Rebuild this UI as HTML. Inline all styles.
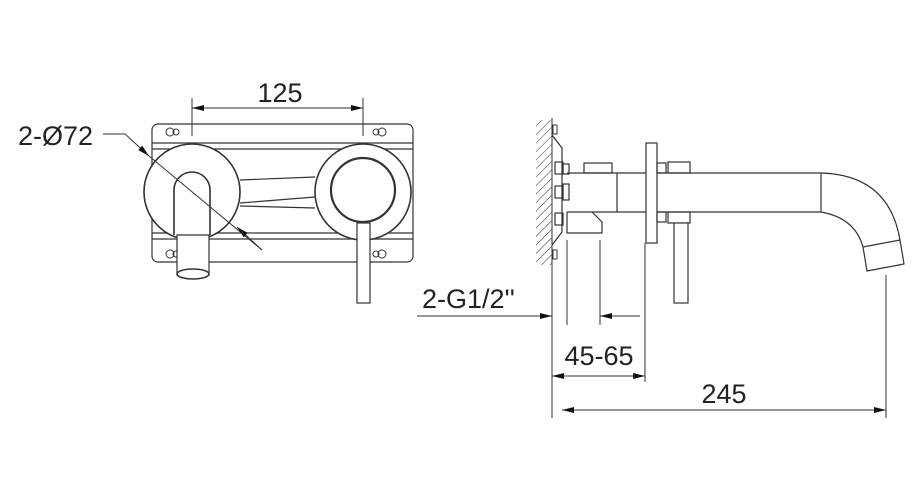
<!DOCTYPE html>
<html><head><style>html,body{margin:0;padding:0;background:#fff}svg{display:block}text{font-family:"Liberation Sans",sans-serif;fill:#222}</style></head>
<body>
<svg width="917" height="484" viewBox="0 0 917 484" xmlns="http://www.w3.org/2000/svg">
<defs>
<marker id="ar" viewBox="0 0 12 6" refX="12" refY="3" markerWidth="12" markerHeight="6" orient="auto" markerUnits="userSpaceOnUse"><path d="M0,0 L12,3 L0,6 Z" fill="#111"/></marker>
<pattern id="hatch" width="6" height="6" patternUnits="userSpaceOnUse" patternTransform="rotate(45)"><line x1="0" y1="0" x2="0" y2="6" stroke="#333" stroke-width="1"/></pattern>
</defs>
<g stroke="#333" stroke-width="1.2" fill="none">
<rect x="152" y="124" width="261" height="138" rx="6" fill="#fff"/>
<line x1="152" y1="143" x2="413" y2="143"/><line x1="152" y1="149" x2="413" y2="149"/>
<line x1="152" y1="233" x2="413" y2="233"/><line x1="152" y1="239" x2="413" y2="239"/>
<g stroke-width="1">
<circle cx="170" cy="132" r="4"/><circle cx="176" cy="132" r="3"/>
<circle cx="382" cy="132" r="4"/><circle cx="376" cy="132" r="3"/>
<circle cx="170" cy="254" r="4"/><circle cx="176" cy="254" r="3"/>
<circle cx="382" cy="254" r="4"/><circle cx="376" cy="254" r="3"/>
</g>
<line x1="240" y1="180" x2="315" y2="177"/>
<line x1="240" y1="203" x2="315" y2="197"/>
<line x1="240" y1="206" x2="315" y2="208"/>
<circle cx="192" cy="192" r="48" fill="#fff" stroke-width="1.6"/>
<circle cx="363" cy="192" r="48" fill="#fff" stroke-width="1.6"/>
<circle cx="363" cy="190" r="32" stroke-width="2.2"/>
<path d="M174,235 L174,190 A18,18 0 0 1 210,190 L210,235" fill="#fff" stroke-width="1.6"/>
<path d="M177,235 L177,273 L209,273 L209,235 Z" fill="#fff"/>
<ellipse cx="193" cy="274" rx="16" ry="5" fill="#fff" stroke-width="1.6"/>
<rect x="357" y="223" width="13" height="80" fill="#fff"/>
<line x1="192" y1="98" x2="192" y2="136" stroke-width="1"/>
<line x1="363" y1="98" x2="363" y2="136" stroke-width="1"/>
<line x1="277" y1="108" x2="192" y2="108" stroke-width="1" marker-end="url(#ar)"/>
<line x1="277" y1="108" x2="363" y2="108" stroke-width="1" marker-end="url(#ar)"/>
<polyline points="103,134 125,134 149,156" stroke-width="1" marker-end="url(#ar)"/>
<line x1="149" y1="156" x2="262" y2="250" stroke-width="1"/>
<line x1="262" y1="250" x2="237" y2="227" stroke-width="1" marker-end="url(#ar)"/>
<rect x="536" y="120" width="16" height="145" fill="url(#hatch)" stroke="none"/>
<line x1="552" y1="118" x2="552" y2="418" stroke-width="1"/>
<polyline points="552,135 562,148 562,232 552,245"/>
<rect x="553" y="125" width="4" height="9" stroke-width="1"/><rect x="553" y="250" width="4" height="9" stroke-width="1"/>
<rect x="555" y="162" width="8" height="12"/><rect x="555" y="186" width="8" height="12"/><rect x="555" y="213" width="8" height="12"/>
<rect x="563" y="164" width="6" height="10"/><rect x="563" y="184" width="6" height="16"/>
<rect x="584" y="163" width="28" height="10"/>
<line x1="567" y1="173" x2="646" y2="173"/>
<line x1="567" y1="212" x2="646" y2="212"/>
<line x1="617" y1="173" x2="617" y2="212"/>
<path d="M567,212 L567,233 L602,233 L602,222 L592,212"/>
<rect x="646" y="143" width="11" height="100" fill="#fff"/>
<rect x="657" y="163" width="9" height="10"/><rect x="668" y="162" width="22" height="11"/>
<rect x="657" y="212" width="9" height="10"/><rect x="668" y="212" width="22" height="11"/>
<line x1="657" y1="173" x2="821" y2="173"/>
<line x1="657" y1="212" x2="821" y2="212"/>
<line x1="821" y1="173" x2="821" y2="212"/>
<path d="M821,173 Q889,175 900,240"/>
<path d="M821,212 Q855,218 863,247"/>
<path d="M863,247 L867,271 L904,264 L900,240 Z"/>
<rect x="674" y="223" width="14" height="80" fill="#fff"/>
<line x1="567" y1="240" x2="567" y2="325" stroke-width="1"/>
<line x1="600" y1="240" x2="600" y2="325" stroke-width="1"/>
<line x1="645" y1="243" x2="645" y2="382" stroke-width="1"/>
<line x1="886" y1="275" x2="886" y2="418" stroke-width="1"/>
<line x1="417" y1="316" x2="552" y2="316" stroke-width="1" marker-end="url(#ar)"/>
<line x1="640" y1="316" x2="600" y2="316" stroke-width="1" marker-end="url(#ar)"/>
<line x1="598" y1="376" x2="552" y2="376" stroke-width="1" marker-end="url(#ar)"/>
<line x1="598" y1="376" x2="645" y2="376" stroke-width="1" marker-end="url(#ar)"/>
<line x1="722" y1="410" x2="562" y2="410" stroke-width="1" marker-end="url(#ar)"/>
<line x1="722" y1="410" x2="886" y2="410" stroke-width="1" marker-end="url(#ar)"/>
</g>
<text x="280" y="102" font-size="27" text-anchor="middle">125</text>
<text x="18" y="145" font-size="27">2-Ø72</text>
<text x="422" y="308" font-size="27">2-G1/2''</text>
<text x="599" y="365" font-size="27" text-anchor="middle">45-65</text>
<text x="724" y="403" font-size="27" text-anchor="middle">245</text>
</svg>
</body></html>
